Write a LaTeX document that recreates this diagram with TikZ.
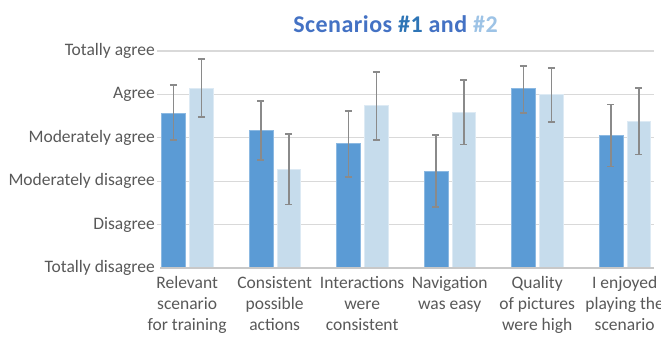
\documentclass[tikz,border=0pt]{standalone}
\usepackage{fontspec}
\setmainfont{Carlito}
\definecolor{txt}{HTML}{595959}
\definecolor{darkbar}{HTML}{5B9BD5}
\definecolor{lightbar}{HTML}{C6DCEC}
\definecolor{gridc}{HTML}{D9D9D9}
\definecolor{axisc}{HTML}{C8C8C8}
\definecolor{errc}{HTML}{8A8A8A}
\definecolor{titleblue}{HTML}{4472C4}
\definecolor{one}{HTML}{2E75B6}
\definecolor{two}{HTML}{9DC3E6}
\begin{document}
\begin{tikzpicture}[x=1pt,y=-1pt,
  ylab/.style={anchor=base east, text=txt, font=\fontsize{17.5}{21}\selectfont, inner sep=0},
  catlab/.style={anchor=base, align=center, text=txt, font=\fontsize{17.5}{21}\selectfont, inner sep=0},
  gridline/.style={draw=gridc, line width=1.2pt},
  axisline/.style={draw=axisc, line width=1.3pt},
  errbar/.style={draw=errc, line width=1.6pt},
  darkfill/.style={fill=darkbar, draw=darkbar!70!white, line width=0.6pt},
  lightfill/.style={fill=lightbar, draw=lightbar!60!white, line width=0.6pt}]
\useasboundingbox (0,0) rectangle (661,338);
\clip (0,0) rectangle (661,338);
\fill[white] (0,0) rectangle (661,338);
% title
\node[anchor=base, inner sep=0, font=\fontsize{24}{28}\selectfont\bfseries\addfontfeature{LetterSpace=2}, text=titleblue] (title) at (395.5,32.3)
  {Scenarios {\color{one}\#1} and {\color{two}\#2}};
% grid lines and y labels
\foreach \k in {1,...,5} {
  \draw[gridline] (157,{268-43.4*\k}) -- (654,{268-43.4*\k});
}
\foreach \k/\lab in {0/Totally disagree,1/Disagree,2/Moderately disagree,3/Moderately agree,4/Agree,5/Totally agree} {
  \node[ylab] (yl\k) at (155,{268-43.4*\k+4.5}) {\lab};
}
% bars
\foreach \k/\da/\db/\dc/\la/\lb/\lc in {
  0/113.3/85/140/88.7/59/116.7,
  1/130/101/160/169.7/133.7/204.3,
  2/143.3/111/176.7/105.5/71.7/140,
  3/171/135/206.7/112/79.7/144.3,
  4/88.7/65.7/112.7/94.3/68/122,
  5/135.7/104.5/166.3/121.2/87.7/154.3} {
  \pgfmathsetmacro\L{161.3+87.5*\k}
  \filldraw[darkfill] (\L,268) rectangle ({\L+24},\da);
  \filldraw[lightfill] ({\L+28.2},268) rectangle ({\L+51.7},\la);
  \draw[errbar] ({\L+12},\db) -- ({\L+12},\dc);
  \draw[errbar] ({\L+8.5},\db) -- ({\L+15.5},\db);
  \draw[errbar] ({\L+8.5},\dc) -- ({\L+15.5},\dc);
  \draw[errbar] ({\L+40},\lb) -- ({\L+40},\lc);
  \draw[errbar] ({\L+36.5},\lb) -- ({\L+43.5},\lb);
  \draw[errbar] ({\L+36.5},\lc) -- ({\L+43.5},\lc);
}
\draw[axisline] (160,268) -- (654,268);
% category labels (anchor at baseline of last line)
\foreach \k/\yy/\lab in {0/330/{Relevant\\scenario\\for training},
  1/330/{Consistent\\possible\\actions},
  2/330/{Interactions\\were\\consistent},
  3/309.3/{Navigation\\was easy},
  4/330/{Quality\\of pictures\\were high},
  5/330/{I enjoyed\\playing the\\scenario}} {
  \node[catlab] (cat\k) at ({187.15+87.5*\k},\yy) {\lab};
}
\end{tikzpicture}
\end{document}
